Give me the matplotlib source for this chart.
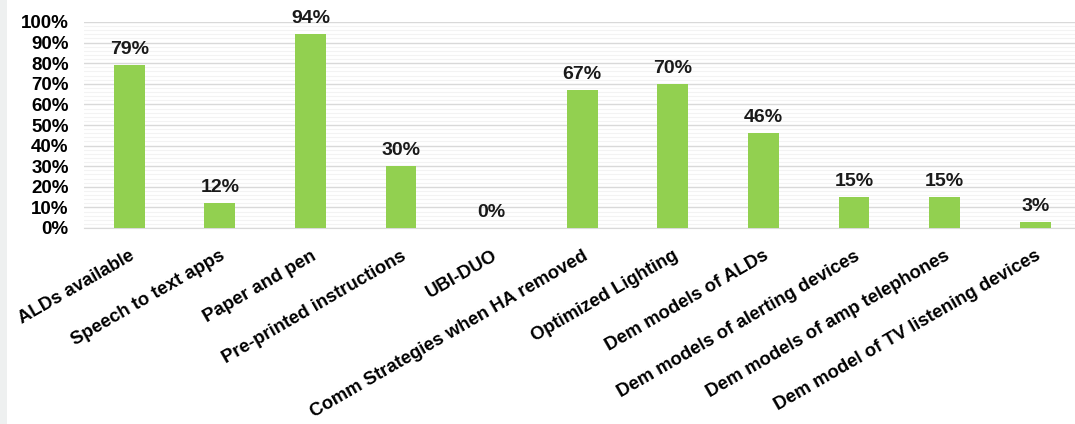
import matplotlib
matplotlib.use("Agg")
import matplotlib.pyplot as plt
from matplotlib.patches import Rectangle
from matplotlib.ticker import MultipleLocator, PercentFormatter

categories = [
    "ALDs available",
    "Speech to text apps",
    "Paper and pen",
    "Pre-printed instructions",
    "UBI-DUO",
    "Comm Strategies when HA removed",
    "Optimized Lighting",
    "Dem models of ALDs",
    "Dem models of alerting devices",
    "Dem models of amp telephones",
    "Dem model of TV listening devices",
]
values = [79, 12, 94, 30, 0, 67, 70, 46, 15, 15, 3]

plt.rcParams["font.family"] = ["Liberation Sans", "DejaVu Sans"]

fig = plt.figure(figsize=(10.75, 4.24), dpi=100)
fig.patches.append(Rectangle((0, 0), 7 / 1075, 1, transform=fig.transFigure,
                             facecolor="#eef0f0", edgecolor="none", zorder=0))

ax = fig.add_axes([84 / 1075, 196 / 424, 1 - 84 / 1075, 206 / 424])
x = list(range(len(categories)))
bars = ax.bar(x, values, width=0.34, color="#92d050", zorder=3)

ax.set_xlim(-0.5, 10.44)
ax.set_ylim(0, 100)
ax.yaxis.set_major_locator(MultipleLocator(10))
ax.yaxis.set_minor_locator(MultipleLocator(2))
ax.yaxis.set_major_formatter(PercentFormatter(decimals=0))
ax.grid(axis="y", which="major", color="#d9d9d9", linewidth=1.0, zorder=0)
ax.grid(axis="y", which="minor", color="#f3f3f3", linewidth=0.8, zorder=0)

for s in ["top", "right", "left"]:
    ax.spines[s].set_visible(False)
ax.spines["bottom"].set_color("#d9d9d9")

ax.tick_params(axis="both", which="both", length=0)
ax.tick_params(axis="y", pad=11, labelsize=13.5)
for lab in ax.get_yticklabels():
    lab.set_fontweight("bold")

ax.set_xticks(x)
ax.set_xticklabels(categories, rotation=30, ha="right", rotation_mode="anchor",
                   fontsize=13.3, fontweight="bold")
ax.tick_params(axis="x", pad=14)

for b, v in zip(bars, values):
    ax.annotate(f"{v}%", (b.get_x() + b.get_width() / 2, v),
                xytext=(0, 5), textcoords="offset points",
                ha="center", va="bottom", fontsize=14, fontweight="bold",
                color="#1a1a1a")

fig.savefig("out.png", dpi=100)
